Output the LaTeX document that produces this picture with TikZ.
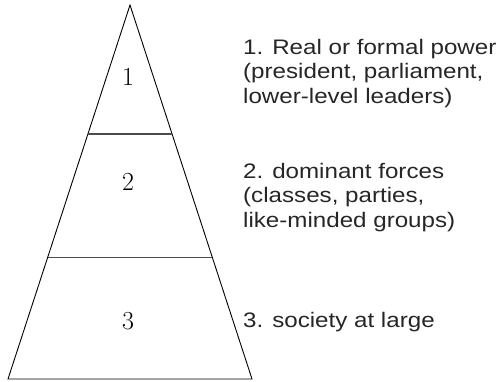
\documentclass[tikz,border=0pt]{standalone}
\usepackage{fontspec}
\newfontfamily\notefont[FakeStretch=1.15]{Liberation Sans}
\usetikzlibrary{calc}
\tikzset{
  lvl/.style={inner sep=0pt, font=\fontsize{26}{26}\selectfont},
  note/.style={anchor=base west, align=left, inner sep=0pt, text=black!85, font=\notefont\fontsize{21}{24.5}\selectfont},
  divide/.style={line width=1.3pt, black!70}
}
\begin{document}
\begin{tikzpicture}[x=1pt,y=-1pt]
            \useasboundingbox (0,0) rectangle (496,381);
            \coordinate (TA) at (130,5);
            \coordinate (TL) at (8,379);
            \coordinate (TR) at (252,379);
            \draw[line width=0.9pt] (TL) -- (TA) -- (TR) -- cycle;

            \coordinate (LA) at ($(TA)!0.345!(TL)$);
            \coordinate (RA) at ($(TA)!0.345!(TR)$);
            \coordinate (LB) at ($(TA)!0.676!(TL)$);
            \coordinate (RB) at ($(TA)!0.676!(TR)$);
            \draw[divide] (LA) -- (RA);
            \draw[divide] (LB) -- (RB);

            \node[lvl] (NA) at (128,77) {1};
            \node[lvl] (NB) at (128,182) {2};
            \node[lvl] (NC) at (128,321) {3};

            \node[note] (TXA) at (243,103) {1. Real or formal power\\(president, parliament,\\lower-level leaders)};
            \node[note] (TXB) at (243,227) {2. dominant forces\\(classes, parties,\\like-minded groups)};
            \node[note] (TXC) at (243,327) {3. society at large};
\end{tikzpicture}
\end{document}
